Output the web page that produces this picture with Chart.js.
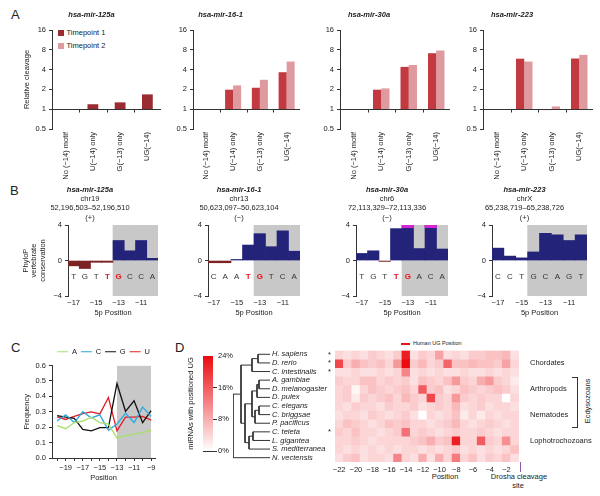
<!DOCTYPE html>
<html>
<head>
<meta charset="utf-8">
<script src="https://cdn.jsdelivr.net/npm/chart.js@4.4.1/dist/chart.umd.min.js"></script>
<style>
html, body { margin: 0; padding: 0; background: #fff; overflow: hidden; }
#fig { position: relative; width: 600px; height: 496px; overflow: hidden; font-family: "Liberation Sans", Arial, sans-serif; color: #222; }
#fig canvas { position: absolute; }
.t { position: absolute; white-space: nowrap; line-height: 1; }
.c { transform: translate(-50%, -50%); }
.letter { font-size: 13px; }
</style>
</head>
<body>
<div id="fig">
  <div class="t letter" style="left:11px;top:8px">A</div>
  <div class="t letter" style="left:10px;top:184px">B</div>
  <div class="t letter" style="left:11px;top:341px">C</div>
  <div class="t letter" style="left:175px;top:341px">D</div>

  <div class="t" style="left:58px;top:30px;width:6px;height:6px;background:#9a2c31"></div>
  <div class="t c" style="left:86px;top:33px;font-size:7.5px">Timepoint 1</div>
  <div class="t" style="left:58px;top:43px;width:6px;height:6px;background:#de9a9f"></div>
  <div class="t c" style="left:86px;top:46px;font-size:7.5px">Timepoint 2</div>

  <div class="t" style="left:401px;top:342.5px;width:9px;height:2.5px;background:#e8141c"></div>
  <div class="t" style="left:413px;top:341px;font-size:5.5px">Human UG Position</div>
  <div class="t" style="left:572px;top:377px;width:5px;height:49px;border:1px solid #333;border-left:none"></div>
  <div class="t c" style="left:588px;top:401px;font-size:7.5px;transform:translate(-50%,-50%) rotate(-90deg)">Ecdysozoans</div>
  <div class="t c" style="left:445px;top:477px;font-size:7.5px">Position</div>
  <div class="t c" style="left:519px;top:477px;font-size:7.5px">Drosha cleavage</div>
  <div class="t c" style="left:518px;top:486px;font-size:7.5px">site</div>
  <div class="t" style="left:519.5px;top:462px;width:1.5px;height:10px;background:#8b5c9e"></div>
</div>
<script>
// ---------- data ----------
// A: relative cleavage
const cleavageCats = ['No (\u221214) motif', 'U(\u221214) only', 'G(\u221213) only', 'UG(\u221214)'];
const cleavageTicks = [0.5, 1, 2, 4, 8, 16];
const mir125aT1 = [1, 1.19, 1.27, 1.68];
const mir125aT2 = [null, null, null, null];
const mir161T1 = [1, 1.98, 2.12, 3.65];
const mir161T2 = [1, 2.3, 2.8, 5.3];
const mir30aT1 = [1, 1.98, 4.4, 7.1];
const mir30aT2 = [1, 2.07, 4.7, 7.8];
const mir223T1 = [1, 5.86, 0.97, 5.9];
const mir223T2 = [1, 5.3, 1.1, 6.7];

// B: PhyloP conservation
const phyloPos = [-17, -16, -15, -14, -13, -12, -11, -10];
const cons125a = [-0.6, -0.9, -0.2, -0.2, 2.26, 1.1, 2.26, 0.25];
const cons161 = [-0.25, -0.25, 0.12, 1.75, 3.03, 1.56, 3.35, 1.05];
const cons30a = [0.8, 1.1, -0.1, 3.6, 4.5, 1.35, 4.5, 1.3];
const cons223 = [1.4, 0.5, 0.3, 0.97, 3.07, 2.9, 2.26, 2.9];
const seq125a = ['T', 'G', 'T', 'T', 'G', 'C', 'C', 'A'];
const seq161 = ['C', 'A', 'A', 'T', 'G', 'T', 'C', 'A'];
const seq30a = ['T', 'G', 'T', 'T', 'G', 'A', 'C', 'A'];
const seq223 = ['C', 'C', 'T', 'G', 'C', 'A', 'G', 'T'];

// C: nucleotide frequency
const nucPos = [-20, -19, -18, -17, -16, -15, -14, -13, -12, -11, -10, -9];
const freqA = [0.21, 0.19, 0.23, 0.24, 0.265, 0.23, 0.22, 0.13, 0.145, 0.155, 0.165, 0.18];
const freqC = [0.24, 0.28, 0.23, 0.30, 0.26, 0.28, 0.18, 0.22, 0.29, 0.23, 0.33, 0.27];
const freqG = [0.275, 0.265, 0.257, 0.186, 0.176, 0.197, 0.197, 0.483, 0.303, 0.371, 0.229, 0.307];
const freqU = [0.267, 0.25, 0.27, 0.288, 0.299, 0.286, 0.392, 0.176, 0.265, 0.265, 0.27, 0.246];

// D: % miRNAs with positioned UG, positions -22..-1
const heatPos = [-22, -21, -20, -19, -18, -17, -16, -15, -14, -13, -12, -11, -10, -9, -8, -7, -6, -5, -4, -3, -2, -1];
const hSapiens = [4, 3, 4, 3, 5, 4, 3, 5, 22, 3, 5, 4, 9, 3, 4, 3, 5, 5, 6, 6, 7, 3];
const dRerio = [18, 5, 8, 6, 5, 6, 4, 10, 24, 5, 7, 4, 5, 15, 6, 6, 7, 6, 6, 5, 9, 4];
const cIntestinalis = [3, 3, 4, 3, 3, 4, 3, 4, 12, 3, 4, 3, 4, 3, 3, 4, 3, 3, 4, 3, 4, 3];
const aGambiae = [5, 4, 4, 6, 6, 4, 5, 4, 5, 3, 6, 5, 4, 6, 10, 5, 4, 8, 10, 5, 4, 2];
const dMelanogaster = [4, 5, 1, 4, 6, 5, 4, 5, 6, 4, 16, 5, 6, 3, 4, 6, 5, 4, 5, 6, 5, 3];
const dPulex = [4, 5, 2, 5, 4, 5, 6, 4, 7, 5, 4, 18, 5, 4, 10, 5, 4, 5, 4, 4, 0, 4];
const cElegans = [4, 3, 5, 4, 4, 3, 5, 4, 4, 5, 3, 4, 5, 4, 7, 3, 4, 5, 3, 4, 4, 3];
const cBriggsae = [3, 4, 4, 3, 5, 4, 3, 4, 5, 3, 0, 4, 3, 4, 6, 2, 4, 2, 4, 3, 4, 4];
const pPacificus = [4, 6, 5, 4, 3, 4, 6, 5, 6, 4, 4, 3, 4, 5, 7, 4, 3, 4, 5, 4, 3, 4];
const cTeleta = [5, 4, 6, 4, 4, 3, 4, 5, 14, 4, 5, 4, 3, 4, 5, 4, 4, 5, 4, 3, 4, 4];
const lGigantea = [4, 4, 5, 4, 3, 4, 4, 4, 4, 5, 6, 8, 5, 6, 22, 4, 4, 16, 5, 4, 11, 4];
const sMediterranea = [4, 3, 4, 3, 4, 3, 4, 3, 4, 4, 3, 4, 3, 4, 5, 3, 4, 3, 4, 3, 4, 6];
const nVectensis = [3, 5, 6, 3, 4, 4, 3, 12, 4, 3, 8, 3, 8, 4, 13, 4, 6, 3, 5, 4, 6, 3];
const heatRows = [hSapiens, dRerio, cIntestinalis, aGambiae, dMelanogaster, dPulex,
  cElegans, cBriggsae, pPacificus, cTeleta, lGigantea, sMediterranea, nVectensis];
const starred = ['H. sapiens', 'D. rerio', 'C. intestinalis', 'C. teleta'];
const groupNames = ['Chordates', 'Arthropods', 'Nematodes', 'Lophotrochozoans'];
const groupRows = [1.5, 4.5, 7.5, 10.5];
const groupBreaks = [3, 6, 9, 12];
const colorTicks = [0, 8, 16, 24];
// cladogram, h = node depth from the tips
const tree = {h: 37, c: [
  {h: 29, c: [
    {h: 18, c: [{h: 12, c: ['H. sapiens', 'D. rerio']}, 'C. intestinalis']},
    {h: 25, c: [
      {h: 18, c: [
        {h: 13, c: [{h: 11, c: ['A. gambiae', 'D. melanogaster']}, 'D. pulex']},
        {h: 15, c: [{h: 11, c: ['C. elegans', 'C. briggsae']}, 'P. pacificus']}
      ]},
      {h: 21, c: [{h: 17, c: ['C. teleta', 'L. gigantea']}, 'S. mediterranea']}
    ]}
  ]},
  'N. vectensis'
]};

// ---------- setup ----------
Chart.defaults.font.family = '"Liberation Sans", Arial, sans-serif';
Chart.defaults.font.size = 7.5;
Chart.defaults.color = '#222';
Chart.defaults.animation = false;
Chart.defaults.responsive = false;
Chart.defaults.plugins.legend.display = false;
Chart.defaults.plugins.tooltip.enabled = false;

const fig = document.getElementById('fig');
function canvasAt(left, top, w, h) {
  const c = document.createElement('canvas');
  c.width = w; c.height = h;
  c.style.left = left + 'px'; c.style.top = top + 'px';
  c.style.width = w + 'px'; c.style.height = h + 'px';
  fig.appendChild(c);
  return c;
}
const minus = v => (v < 0 ? '\u2212' + Math.abs(v) : String(v));
const fixTicks = vals => s => { s.ticks = vals.map(v => ({value: v})); };
const noGrid = {display: false, drawTicks: false};

// ---------- A ----------
const unityLine = {
  id: 'unityLine',
  afterDatasetsDraw(chart) {
    const {ctx, chartArea: a, scales: {x, y}} = chart;
    const py = Math.round(y.getPixelForValue(1)) + 0.5;
    ctx.save();
    ctx.strokeStyle = '#333';
    ctx.lineWidth = 1;
    ctx.beginPath();
    ctx.moveTo(a.left, py);
    ctx.lineTo(a.right, py);
    for (let i = 1; i < cleavageCats.length; i++) {
      const px = Math.round((x.getPixelForValue(i - 1) + x.getPixelForValue(i)) / 2) + 0.5;
      ctx.moveTo(px, py);
      ctx.lineTo(px, py + 3);
    }
    ctx.stroke();
    ctx.restore();
  }
};

function cleavageChart(cv, name, t1, t2, dark, barPct, padLeft, yw, padRight, withTitle) {
  return new Chart(cv, {
    type: 'bar',
    data: {
      labels: cleavageCats,
      datasets: [
        {label: 'Timepoint 1', data: t1.map(v => v == null ? null : [1, v]), backgroundColor: dark},
        {label: 'Timepoint 2', data: t2.map(v => v == null ? null : [1, v]), backgroundColor: '#de9a9f'}
      ]
    },
    options: {
      layout: {padding: {left: padLeft, right: padRight}},
      datasets: {bar: {categoryPercentage: 0.6, barPercentage: barPct, skipNull: true}},
      plugins: {
        title: {display: true, text: name, font: {size: 7.5, style: 'italic'}, padding: {top: 10, bottom: 11}}
      },
      scales: {
        x: {
          grid: noGrid, border: {display: false},
          ticks: {autoSkip: false, minRotation: 90, maxRotation: 90, padding: 3},
          afterFit: s => { s.height = 50; }
        },
        y: {
          type: 'logarithmic', min: 0.5, max: 16,
          afterBuildTicks: fixTicks(cleavageTicks),
          ticks: {callback: v => String(v), padding: 3},
          grid: {drawOnChartArea: false, tickLength: 3, color: '#333'},
          border: {color: '#333'},
          title: {display: withTitle, text: 'Relative cleavage', padding: 0},
          afterFit: s => { s.width = yw; }
        }
      }
    },
    plugins: [unityLine]
  });
}

cleavageChart(canvasAt(0, 0, 234, 179), 'hsa-mir-125a', mir125aT1, mir125aT2, '#9a2c31', 0.66, 22, 30, 73, true);
cleavageChart(canvasAt(141, 0, 236, 179), 'hsa-mir-16-1', mir161T1, mir161T2, '#c23a40', 1, 0, 52, 77, false);
cleavageChart(canvasAt(288, 0, 248, 179), 'hsa-mir-30a', mir30aT1, mir30aT2, '#c23a40', 1, 0, 52, 86, false);
cleavageChart(canvasAt(431, 0, 254, 179), 'hsa-mir-223', mir223T1, mir223T2, '#c23a40', 1, 0, 52, 92, false);

// ---------- B ----------
const seqLetters = {
  id: 'seqLetters',
  afterDatasetsDraw(chart, args, opts) {
    const {ctx, scales: {x, y}} = chart;
    ctx.save();
    ctx.textAlign = 'center';
    ctx.textBaseline = 'middle';
    opts.seq.forEach((s, i) => {
      const hot = opts.red.includes(i);
      ctx.font = (hot ? 'bold ' : '') + '8px "Liberation Sans", Arial, sans-serif';
      ctx.fillStyle = hot ? '#e8141c' : '#333';
      ctx.fillText(s, x.getPixelForValue(i), y.getPixelForValue(opts.at));
    });
    ctx.restore();
  }
};

function phyloChart(cv, lines, cons, seq, red, shadeFrom, padLeft, yw, padRight, withTitle) {
  return new Chart(cv, {
    type: 'bar',
    data: {
      labels: phyloPos.map(String),
      datasets: [
        {data: cons, backgroundColor: c => c.raw < 0 ? '#7b2222' : '#232379', order: 1},
        {data: cons.map(v => v > 4 ? [3.7, 4] : null), backgroundColor: '#d526d5', order: 0},
        {data: phyloPos.map(p => p >= shadeFrom ? [-4, 4] : null), backgroundColor: '#c8c8c8', order: 2}
      ]
    },
    options: {
      layout: {padding: {left: padLeft, right: padRight}},
      datasets: {bar: {grouped: false, barPercentage: 1, categoryPercentage: 1, clip: 0}},
      plugins: {
        title: {display: true, text: lines[0], font: {size: 7.5, style: 'italic'}, padding: {top: 5, bottom: 0}},
        subtitle: {display: true, text: lines.slice(1), font: {size: 7.5, lineHeight: 1.27}, padding: {top: 0, bottom: 2.5}},
        seqLetters: {seq: seq, red: red, at: -1.8}
      },
      scales: {
        x: {
          grid: noGrid, border: {display: false},
          ticks: {autoSkip: false, maxRotation: 0, padding: 2, callback: (v, i) => phyloPos[i] % 2 ? minus(phyloPos[i]) : ''},
          title: {display: true, text: '5p Position', padding: {top: 0, bottom: 3}},
          afterFit: s => { s.height = 24; }
        },
        y: {
          min: -4, max: 4,
          afterBuildTicks: fixTicks([-4, 0, 4]),
          ticks: {callback: v => minus(v), padding: 3},
          grid: {drawOnChartArea: false, tickLength: 3, color: '#333'},
          border: {color: '#333'},
          title: {display: withTitle, text: ['PhyloP', 'vertebrate', 'conservation'], font: {size: 7.5, lineHeight: 1.1}, padding: 0},
          afterFit: s => { s.width = yw; }
        }
      }
    },
    plugins: [seqLetters]
  });
}

phyloChart(canvasAt(0, 180, 240, 140), ['hsa-mir-125a', 'chr19', '52,196,503\u201352,196,510', '(+)'],
  cons125a, seq125a, [3, 4], -13, 22, 46, 82, true);
phyloChart(canvasAt(178, 180, 174, 140), ['hsa-mir-16-1', 'chr13', '50,623,097\u201350,623,104', '(\u2212)'],
  cons161, seq161, [3, 4], -13, 0, 30, 52, false);
phyloChart(canvasAt(326, 180, 164, 140), ['hsa-mir-30a', 'chr6', '72,113,329\u201372,113,336', '(\u2212)'],
  cons30a, seq30a, [3, 4], -13, 0, 30, 42, false);
phyloChart(canvasAt(462, 180, 164, 140), ['hsa-mir-223', 'chrX', '65,238,719\u201365,238,726', '(+)'],
  cons223, seq223, [], -14, 0, 30, 39, false);

// ---------- C ----------
const pts = arr => nucPos.map((p, i) => ({x: p, y: arr[i]}));
new Chart(canvasAt(0, 335, 170, 160), {
  type: 'line',
  data: {
    datasets: [
      {label: 'A', data: pts(freqA), borderColor: '#a6e06a'},
      {label: 'C', data: pts(freqC), borderColor: '#2aa8e0'},
      {label: 'G', data: pts(freqG), borderColor: '#111111'},
      {label: 'U', data: pts(freqU), borderColor: '#e31e24'},
      {label: 'shade', data: [{x: -13, y: 0.6}, {x: -9, y: 0.6}], fill: 'origin', backgroundColor: '#c8c8c8', borderWidth: 0, order: 10}
    ]
  },
  options: {
    layout: {padding: {left: 22, right: 15, top: 9}},
    elements: {point: {radius: 0}, line: {borderWidth: 1.3, tension: 0}},
    plugins: {
      legend: {
        display: true, position: 'top', fullSize: false,
        labels: {usePointStyle: true, pointStyle: 'line', pointStyleWidth: 11, boxHeight: 7, padding: 4,
          filter: item => item.text !== 'shade'}
      }
    },
    scales: {
      x: {
        type: 'linear', min: -20.6, max: -8.55,
        afterBuildTicks: fixTicks(nucPos),
        ticks: {callback: v => v % 2 ? minus(v) : '', padding: 2, autoSkip: false, maxRotation: 0},
        grid: {drawOnChartArea: false, tickLength: 3, color: '#333'},
        border: {color: '#333'},
        title: {display: true, text: 'Position', padding: {top: 0, bottom: 13}},
        afterFit: s => { s.height = 37; }
      },
      y: {
        min: 0, max: 0.6,
        afterBuildTicks: fixTicks([0, 0.1, 0.2, 0.3, 0.4, 0.5, 0.6]),
        ticks: {callback: v => v.toFixed(1), padding: 3},
        grid: {drawOnChartArea: false, tickLength: 3, color: '#333'},
        border: {color: '#333'},
        title: {display: true, text: 'Frequency', padding: 0},
        afterFit: s => { s.width = 30; }
      }
    }
  }
});

// ---------- D ----------
const heatTop = [234, 10, 16];
function heatColor(v) {
  const t = Math.min(v / 24, 1);
  const ch = heatTop.map(c => Math.round(255 + (c - 255) * t));
  return `rgb(${ch[0]},${ch[1]},${ch[2]})`;
}

// colour bar
new Chart(canvasAt(186, 345, 60, 115), {
  type: 'bar',
  data: {
    labels: [''],
    datasets: [{
      data: [[0, 24]], yAxisID: 'y', barPercentage: 1, categoryPercentage: 1,
      backgroundColor: c => {
        const a = c.chart.chartArea;
        if (!a) return 'rgba(0,0,0,0)';
        const g = c.chart.ctx.createLinearGradient(0, a.bottom, 0, a.top);
        g.addColorStop(0, heatColor(0));
        g.addColorStop(1, heatColor(24));
        return g;
      }
    }]
  },
  options: {
    layout: {padding: {top: 11, bottom: 9}},
    scales: {
      x: {display: false},
      t: {
        position: 'left', ticks: {display: false}, grid: noGrid, border: {display: false},
        title: {display: true, text: 'miRNAs with positioned UG', padding: 0},
        afterFit: s => { s.width = 17; }
      },
      y: {
        position: 'right', min: 0, max: 24, z: 1,
        afterBuildTicks: fixTicks(colorTicks),
        ticks: {callback: v => v + '%', padding: 1},
        grid: {color: c => c.tick && c.tick.value === 24 ? 'rgba(0,0,0,0)' : '#333', tickLength: 4},
        border: {display: false},
        afterFit: s => { s.width = 33; }
      }
    }
  }
});

// cladogram
const leaves = [];
const segs = [];
function layoutTree(node) {
  if (typeof node === 'string') {
    leaves.push(node);
    return {x: 0, y: leaves.length - 1};
  }
  const kids = node.c.map(layoutTree);
  const y0 = kids[0].y, y1 = kids[kids.length - 1].y;
  segs.push([{x: node.h, y: y0}, {x: node.h, y: y1}]);
  kids.forEach(k => segs.push([{x: node.h, y: k.y}, {x: k.x, y: k.y}]));
  return {x: node.h, y: (y0 + y1) / 2};
}
layoutTree(tree);

new Chart(canvasAt(225, 340, 120, 132), {
  type: 'scatter',
  data: {datasets: segs.map(s => ({data: s, showLine: true, borderColor: '#333', borderWidth: 1, pointRadius: 0}))},
  options: {
    layout: {padding: {left: 8, top: 10, bottom: 10}},
    scales: {
      x: {display: false, min: 0, max: tree.h, reverse: true},
      y: {
        position: 'right', min: -0.5, max: leaves.length - 0.5, reverse: true,
        afterBuildTicks: fixTicks(leaves.map((_, i) => i)),
        ticks: {callback: (v, i) => leaves[i], font: {style: 'italic', size: 7.5}, padding: 2, autoSkip: false},
        grid: noGrid, border: {display: false},
        afterFit: s => { s.width = 75; }
      }
    }
  }
});

// heat map: one stacked unit cell per species and position
const starRows = leaves.map((n, i) => starred.includes(n) ? i + 0.5 : null).filter(v => v != null);
new Chart(canvasAt(310, 335, 290, 161), {
  type: 'bar',
  data: {
    labels: heatPos.map(String),
    datasets: heatRows.map((row, r) => ({
      label: leaves[r], data: row.map(() => 1), backgroundColor: row.map(heatColor), yAxisID: 'y'
    }))
  },
  options: {
    layout: {padding: {top: 15}},
    datasets: {bar: {barPercentage: 1, categoryPercentage: 1}},
    scales: {
      x: {
        stacked: true, grid: noGrid, border: {display: false},
        ticks: {autoSkip: false, maxRotation: 0, padding: 3, callback: (v, i) => heatPos[i] % 2 === 0 ? minus(heatPos[i]) : ''},
        afterFit: s => { s.height = 34; }
      },
      y: {
        stacked: true, min: 0, max: heatRows.length, reverse: true, z: 1,
        afterBuildTicks: fixTicks(starRows.concat(groupBreaks)),
        ticks: {callback: v => Number.isInteger(v) ? '' : '*', padding: 4, autoSkip: false},
        grid: {drawTicks: false, color: c => c.tick && Number.isInteger(c.tick.value) ? '#3a3a3a' : 'rgba(0,0,0,0)'},
        border: {display: false},
        afterFit: s => { s.width = 25; }
      },
      g: {
        position: 'right', min: 0, max: heatRows.length, reverse: true,
        afterBuildTicks: fixTicks(groupRows),
        ticks: {callback: (v, i) => groupNames[i], padding: 11, autoSkip: false},
        grid: noGrid, border: {display: false},
        afterFit: s => { s.width = 81; }
      }
    }
  }
});
</script>
</body>
</html>
